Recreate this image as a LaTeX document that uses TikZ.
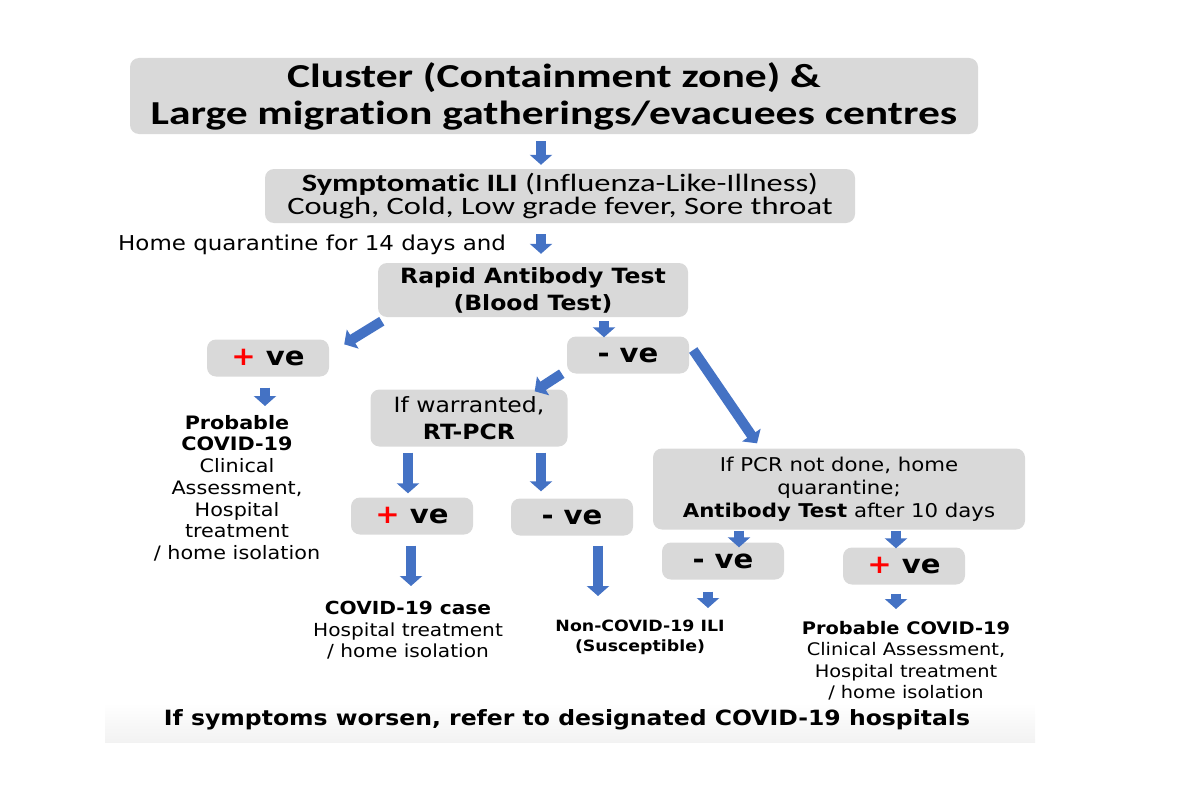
\documentclass[tikz,border=0pt]{standalone}
\usepackage{fontspec}
\setmainfont{DejaVu Sans}[FakeStretch=1.12]
\newfontfamily\calibri{Carlito}[FakeStretch=1.3, Ligatures=NoCommon]
\usetikzlibrary{arrows.meta}
\definecolor{boxgray}{HTML}{D9D9D9}
\definecolor{arrowblue}{HTML}{4472C4}
\definecolor{plusred}{HTML}{FF0000}
\newcommand{\fs}[2]{\fontsize{#1}{#2}\selectfont}
\newcommand{\plusve}{{\color{plusred}+} ve}
\newcommand{\minusve}{- ve}
\tikzset{
	grbox/.style={fill=boxgray, rounded corners=9pt, align=center, inner sep=0pt},
	resbox/.style={grbox, minimum width=122pt, minimum height=37pt, font=\bfseries\fs{26}{30}},
	outtext/.style={anchor=north, align=center, inner sep=0pt},
	blk/.style={draw=arrowblue, line width=10pt, -{Triangle[width=22pt,length=10pt]}},
}

\begin{document}
\begin{tikzpicture}[x=1pt,y=-1pt]
	\useasboundingbox (0,0) rectangle (1200,800);
	\shade[top color=white, bottom color=black!5] (105,703) rectangle (1035,742);

	\node[grbox, minimum width=848pt, minimum height=76pt, font=\calibri\bfseries\fs{33.5}{37}] (title) at (554,96) {Cluster (Containment zone) \&\\Large migration gatherings/evacuees centres};
	\node[grbox, minimum width=590pt, minimum height=54pt, font=\calibri\fs{25}{23.5}] (ili) at (560,196) {\textbf{Symptomatic ILI} (Influenza-Like-Illness)\\Cough, Cold, Low grade fever, Sore throat};
	\node[anchor=west, inner sep=0pt, font=\fs{20.5}{24}] (home) at (118,245) {Home quarantine for 14 days and};
	\node[grbox, minimum width=310pt, minimum height=54pt, font=\bfseries\fs{21}{27}] (rapid) at (533,290) {Rapid Antibody Test\\(Blood Test)};

	\node[resbox] (pos1) at (268,358) {\plusve};
	\node[resbox] (neg1) at (628,355) {\minusve};
	\node[grbox, minimum width=197pt, minimum height=57pt, font=\fs{21}{27}] (warr) at (469,418) {If warranted,\\\textbf{RT-PCR}};
	\node[resbox] (pos2) at (412,516) {\plusve};
	\node[resbox] (neg2) at (572,517) {\minusve};
	\node[grbox, minimum width=372pt, minimum height=81pt, font=\fs{19}{23}] (pcrnd) at (839,489) {If PCR not done, home\\quarantine;\\\textbf{Antibody Test} after 10 days};
	\node[resbox] (neg3) at (723,561) {\minusve};
	\node[resbox] (pos3) at (904,566) {\plusve};

	\node[outtext, font=\fs{18.5}{21.7}] (prob1) at (237,415) {\textbf{Probable}\\\textbf{COVID-19}\\Clinical\\Assessment,\\Hospital\\treatment\\/ home isolation};
	\node[outtext, font=\fs{18}{21.5}] (case) at (408,601) {\textbf{COVID-19 case}\\Hospital treatment\\/ home isolation};
	\node[outtext, font=\bfseries\fs{15.5}{20}] (noncov) at (640,620) {Non-COVID-19 ILI\\(Susceptible)};
	\node[outtext, font=\fs{17.3}{21.5}] (prob2) at (906,621) {\textbf{Probable COVID-19}\\Clinical Assessment,\\Hospital treatment\\/ home isolation};
	\node[font=\bfseries\fs{21}{24}] (worse) at (567,720) {If symptoms worsen, refer to designated COVID-19 hospitals};

	\draw[blk] ([xshift=-13pt,yshift=-7pt]title.south) -- ([xshift=-19pt,yshift=4pt]ili.north);
	\draw[blk] ([xshift=-19pt,yshift=-11pt]ili.south) -- ([xshift=8pt,yshift=9pt]rapid.north);
	\draw[blk] ([xshift=4pt,yshift=-4pt]rapid.south west) -- ([xshift=15pt,yshift=-5pt]pos1.north east);
	\draw[blk] ([xshift=71pt,yshift=-4pt]rapid.south) -- ([xshift=-24pt,yshift=-1pt]neg1.north);
	\draw[blk] ([xshift=-5pt]neg1.south west) -- ([xshift=-33pt,yshift=-2pt]warr.north east);
	\draw[blk] ([xshift=4pt,yshift=5pt]neg1.east) -- ([xshift=-82pt,yshift=5pt]pcrnd.north);
	\draw[blk] ([xshift=-3pt,yshift=-11pt]pos1.south) -- ([xshift=28pt,yshift=9pt]prob1.north);
	\draw[blk] ([xshift=-61pt,yshift=-6pt]warr.south) -- ([xshift=-4pt,yshift=4pt]pos2.north);
	\draw[blk] ([xshift=72pt,yshift=-6pt]warr.south) -- ([xshift=-31pt,yshift=7pt]neg2.north);
	\draw[blk] ([xshift=-1pt,yshift=-11pt]pos2.south) -- ([xshift=3pt,yshift=15pt]case.north);
	\draw[blk] ([xshift=26pt,yshift=-10pt]neg2.south) -- ([xshift=-42pt,yshift=24pt]noncov.north);
	\draw[blk] ([xshift=-100pt,yshift=-1pt]pcrnd.south) -- ([xshift=16pt,yshift=-5pt]neg3.north);
	\draw[blk] ([xshift=57pt,yshift=-1pt]pcrnd.south) -- ([xshift=-8pt,yshift=-1pt]pos3.north);
	\draw[blk] ([xshift=-15pt,yshift=-12pt]neg3.south) -- ([xshift=68pt,yshift=12pt]noncov.north);
	\draw[blk] ([xshift=-8pt,yshift=-9pt]pos3.south) -- ([xshift=-10pt,yshift=12pt]prob2.north);
\end{tikzpicture}
\end{document}
